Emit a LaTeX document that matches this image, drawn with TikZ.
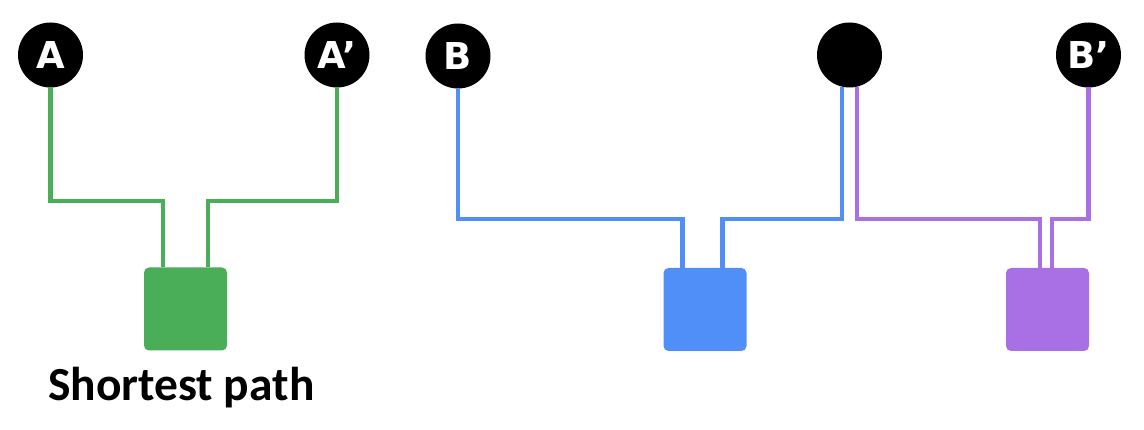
\documentclass[tikz,border=0pt]{standalone}
\usepackage{fontspec}
\setmainfont{Carlito}
\newfontfamily\letterfont{DejaVu Sans}
\definecolor{pgreen}{RGB}{74,174,89}
\definecolor{pblue}{RGB}{80,143,247}
\definecolor{ppurple}{RGB}{169,112,230}
\begin{document}
\begin{tikzpicture}[x=1pt,y=-1pt,
  endpt/.style={circle,fill=black,minimum size=65pt,inner sep=0pt,outer sep=0pt,text=white,font=\letterfont\bfseries\fontsize{37}{37}\selectfont},
  hub/.style={rounded corners=5pt,minimum width=83pt,minimum height=83pt,inner sep=0pt,outer sep=0pt},
  wire/.style={line width=4.2pt,line join=miter}]
\useasboundingbox (0,0) rectangle (1144,430);
% endpoints
\node[endpt] (A)  at (50.5,55) {A};
\node[endpt] (A2) at (337,55) {A’};
\node[endpt] (B)  at (458,56) {B};
\node[endpt] (M)  at (849.5,55) {};
\node[endpt] (B2) at (1088.5,55) {B’};
% hubs
\node[hub,fill=pgreen]  (G) at (185.5,309) {};
\node[hub,fill=pblue]   (U) at (705,309.5) {};
\node[hub,fill=ppurple] (P) at (1047.5,309.5) {};
% levels
\coordinate (gy) at (0,201);
\coordinate (uy) at (0,219);
\coordinate (py) at (0,219);
% entry points on hubs
\coordinate (gl) at ([xshift=19pt]G.north west);
\coordinate (gr) at ([xshift=-19pt]G.north east);
\coordinate (ul) at ([xshift=19pt]U.north west);
\coordinate (ur) at ([xshift=-24pt]U.north east);
\coordinate (pl) at ([xshift=34pt]P.north west);
\coordinate (pr) at ([xshift=-37pt]P.north east);
% green
\draw[wire,pgreen] (A.south) |- (gl |- gy) -- (gl);
\draw[wire,pgreen] (A2.south) |- (gr |- gy) -- (gr);
% blue
\draw[wire,pblue] (B.south) |- (ul |- uy) -- (ul);
\draw[wire,pblue] (M.-103.5) |- (ur |- uy) -- (ur);
% purple
\draw[wire,ppurple] (M.-76.5) |- (pl |- py) -- (pl);
\draw[wire,ppurple] (B2.south) |- (pr |- py) -- (pr);
% label
\node[anchor=base west,inner sep=0pt,font=\bfseries\fontsize{47.5}{47.5}\selectfont] (L) at (48,400) {Shortest path};
\end{tikzpicture}
\end{document}
